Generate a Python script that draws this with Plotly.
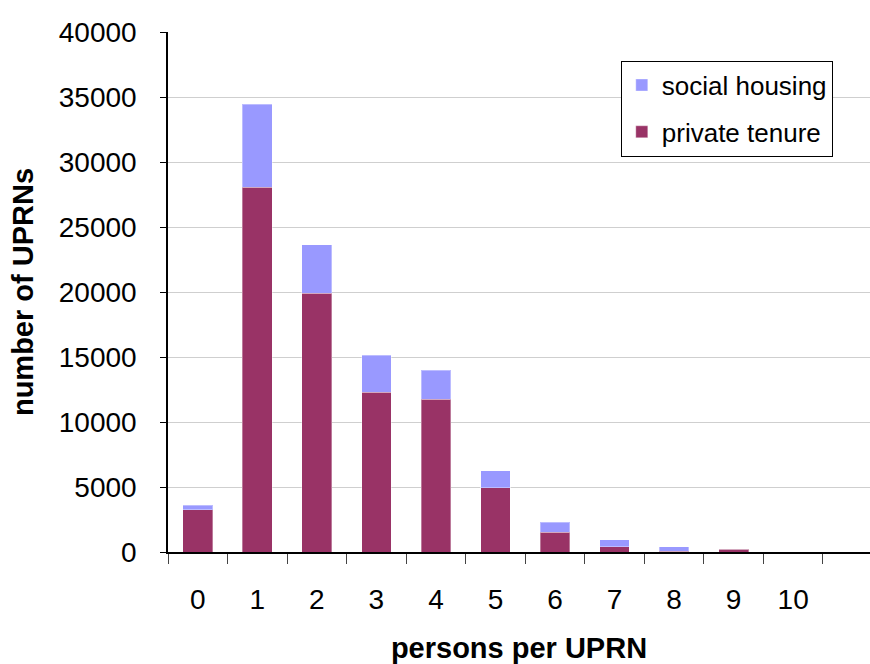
import plotly.graph_objects as go

# persons per UPRN (household size categories)
persons = ["0", "1", "2", "3", "4", "5", "6", "7", "8", "9", "10"]

# number of UPRNs by tenure
private_tenure = [3250, 28050, 19900, 12300, 11750, 4950, 1520, 400, 50, 210, 20]
social_housing = [330, 6400, 3740, 2820, 2230, 1300, 750, 560, 350, 20, 5]

FONT = "Liberation Sans, Arial, sans-serif"

fig = go.Figure()
fig.add_trace(go.Bar(
    x=persons, y=private_tenure, name="private tenure",
    marker=dict(color="#993366", line=dict(color="rgba(255,255,255,0.35)", width=1)),
    legendgroup="private", legendrank=2,
))
fig.add_trace(go.Bar(
    x=persons, y=social_housing, name="social housing",
    marker=dict(color="#9999FF", line=dict(color="rgba(255,255,255,0.35)", width=1)),
    legendgroup="social", legendrank=1,
))

fig.update_layout(
    width=870, height=664,
    margin=dict(l=168, r=0, t=32, b=112),
    barmode="stack",
    bargap=0.5,
    plot_bgcolor="white",
    paper_bgcolor="white",
    font=dict(family=FONT, size=28, color="black"),
    showlegend=True,
    legend=dict(
        x=0.645, y=0.945, xanchor="left", yanchor="top",
        bgcolor="white", bordercolor="black", borderwidth=1,
        font=dict(family=FONT, size=26, color="black"),
        traceorder="grouped",
        tracegroupgap=10,
    ),
    xaxis=dict(
        type="category",
        range=[-0.5, 11.29],
        tickson="boundaries",
        ticks="outside", ticklen=10, tickwidth=1, tickcolor="#444",
        showline=True, linecolor="black", linewidth=1.5,
        showgrid=False, zeroline=False,
        ticklabelstandoff=22,
        tickfont=dict(size=28),
        title=dict(text="<b>persons per UPRN</b>", font=dict(size=29), standoff=27),
        automargin=False,
        fixedrange=True,
    ),
    yaxis=dict(
        range=[0, 40000],
        tickmode="linear", tick0=0, dtick=5000,
        tickformat="d",
        ticks="outside", ticklen=6, tickwidth=1, tickcolor="black",
        showline=True, linecolor="black", linewidth=1.5,
        showgrid=True, gridcolor="#cfcfcf", gridwidth=1,
        zeroline=False,
        ticklabelstandoff=18,
        tickfont=dict(size=28),
        title=dict(text="<b>number of UPRNs</b>", font=dict(size=29), standoff=17),
        automargin=False,
        fixedrange=True,
    ),
)

fig.write_html("out.html")
